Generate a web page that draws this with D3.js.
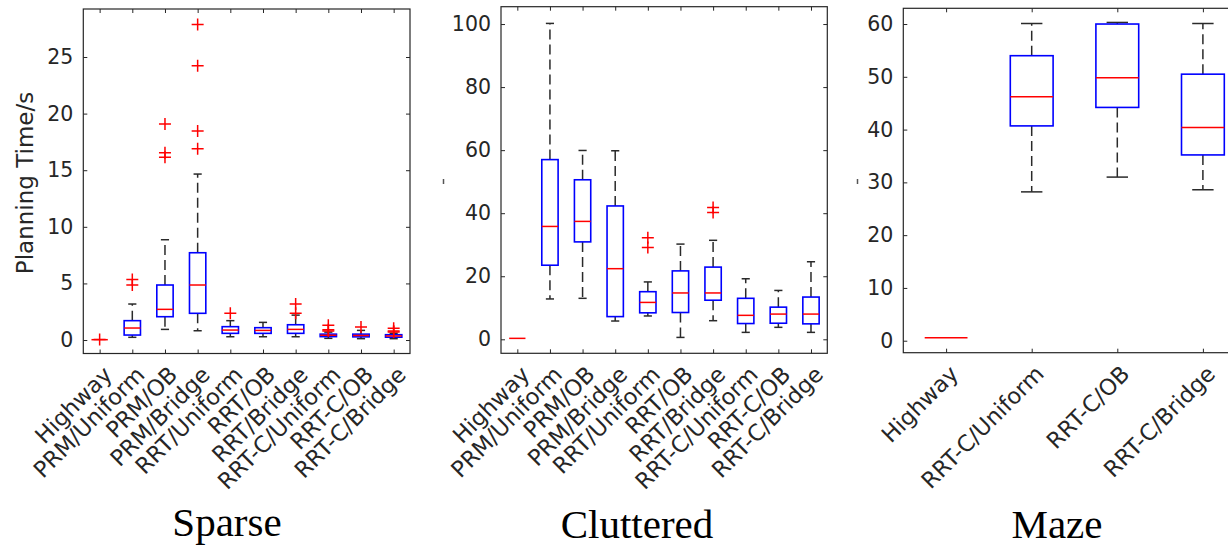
<!DOCTYPE html>
<html>
<head>
<meta charset="utf-8">
<script src="https://cdn.jsdelivr.net/npm/d3@7"></script>
<style>
  body { margin: 0; background: #fff; }
  svg { display: block; }
</style>
</head>
<body>
<svg id="chart" width="1228" height="547"></svg>
<script>
// Data.  Stats rows are [lower whisker, q1, median, q3, upper whisker]
const sparseCats = ["Highway", "PRM/Uniform", "PRM/OB", "PRM/Bridge", "RRT/Uniform",
  "RRT/OB", "RRT/Bridge", "RRT-C/Uniform", "RRT-C/OB", "RRT-C/Bridge"];
const sparseStats = [
  [0.03, 0.03, 0.03, 0.03, 0.03],
  [0.24, 0.44, 1.06, 1.71, 3.18],
  [0.94, 2.06, 2.71, 4.86, 8.86],
  [0.82, 2.36, 4.86, 7.71, 14.66],
  [0.29, 0.59, 0.88, 1.18, 1.71],
  [0.29, 0.59, 0.85, 1.09, 1.56],
  [0.29, 0.59, 0.94, 1.35, 2.2],
  [0.15, 0.3, 0.42, 0.52, 0.7],
  [0.12, 0.28, 0.4, 0.52, 0.85],
  [0.12, 0.25, 0.36, 0.47, 0.6]
];
const sparseOutliers = [[0.05], [5.35, 4.85], [19.08, 16.55, 16.14], [27.86, 24.23, 18.46, 16.9],
  [2.36], [], [3.18, 2.36], [1.3, 0.9, 0.8], [1.15], [1.05, 0.8, 0.7]];
const sparseTicks = [0, 5, 10, 15, 20, 25];

const clutteredCats = sparseCats;
const clutteredStats = [
  [0.3, 0.3, 0.3, 0.3, 0.3],
  [12.8, 23.5, 35.8, 57.0, 100.2],
  [13.0, 30.9, 37.4, 50.6, 59.9],
  [5.8, 7.2, 22.4, 42.3, 59.8],
  [7.4, 8.4, 11.7, 15.1, 18.2],
  [0.6, 8.5, 14.7, 21.7, 30.2],
  [5.9, 12.4, 14.7, 22.9, 31.4],
  [2.2, 5.0, 7.6, 13.0, 19.2],
  [3.8, 5.1, 8.0, 10.2, 15.5],
  [2.2, 4.9, 8.0, 13.4, 24.6]
];
const clutteredOutliers = [[], [], [], [], [32.2, 29.1], [], [41.8, 40.2], [], [], []];
const clutteredTicks = [0, 20, 40, 60, 80, 100];

const mazeCats = ["Highway", "RRT-C/Uniform", "RRT-C/OB", "RRT-C/Bridge"];
const mazeStats = [
  [0.57, 0.57, 0.57, 0.57, 0.57],
  [28.2, 40.7, 46.2, 54.0, 60.1],
  [31.0, 44.2, 49.8, 60.0, 60.3],
  [28.6, 35.2, 40.4, 50.5, 60.1]
];
const mazeOutliers = [[], [], [], []];
const mazeTicks = [0, 10, 20, 30, 40, 50, 60];

const titles = ["Sparse", "Cluttered", "Maze"];

const AXIS_COLOR = "#262626";
const svg = d3.select("#chart");

function drawPanel(p) {
  let n = p.cats.length;
  let x = d3.scaleLinear().domain([0.5, n + 0.5]).range([p.left, p.right]);
  let y = d3.scaleLinear().domain(p.yDomain).range([p.bottom, p.top]);
  let step = x(2) - x(1);
  let boxW = step * 0.5;
  let capW = step * 0.25;

  let g = svg.append("g");

  // frame + ticks on all four sides (inward)
  g.append("g").attr("transform", `translate(0,${p.bottom})`)
    .call(d3.axisBottom(x).tickValues(d3.range(1, n + 1)).tickSize(-4).tickFormat(""))
    .call(a => a.select(".domain").remove());
  g.append("g").attr("transform", `translate(0,${p.top})`)
    .call(d3.axisTop(x).tickValues(d3.range(1, n + 1)).tickSize(-4).tickFormat(""))
    .call(a => a.select(".domain").remove());
  g.append("g").attr("transform", `translate(${p.left},0)`)
    .call(d3.axisLeft(y).tickValues(p.ticks).tickSize(-4).tickPadding(10))
    .call(a => a.select(".domain").remove());
  g.append("g").attr("transform", `translate(${p.right},0)`)
    .call(d3.axisRight(y).tickValues(p.ticks).tickSize(-4).tickFormat(""))
    .call(a => a.select(".domain").remove());
  g.selectAll(".tick line").attr("stroke", AXIS_COLOR);
  g.selectAll(".tick text")
    .attr("fill", AXIS_COLOR)
    .style("font-family", "DejaVu Sans")
    .style("font-size", "20.5px");

  g.append("rect")
    .attr("x", p.left).attr("y", p.top)
    .attr("width", p.right - p.left).attr("height", p.bottom - p.top)
    .attr("fill", "none").attr("stroke", AXIS_COLOR).attr("stroke-width", 1.2);

  // rotated category labels
  g.selectAll("text.xlab").data(p.cats).enter()
    .append("text").attr("class", "xlab")
    .attr("transform", (d, i) => `translate(${x(i + 1) + 8},${p.bottom + 17}) rotate(-45)`)
    .attr("text-anchor", "end")
    .attr("dominant-baseline", "central")
    .attr("fill", AXIS_COLOR)
    .style("font-family", "DejaVu Sans")
    .style("font-size", "22.5px")
    .text(d => d);

  // boxes
  p.stats.forEach((s, i) => {
    let cx = x(i + 1);
    let [lo, q1, med, q3, hi] = s;
    if (hi > q3) {
      g.append("line").attr("x1", cx).attr("x2", cx).attr("y1", y(q3)).attr("y2", y(hi))
        .attr("stroke", "#2a2a2a").attr("stroke-width", 1.5).attr("stroke-dasharray", "10,5");
      g.append("line").attr("x1", cx - capW / 2).attr("x2", cx + capW / 2).attr("y1", y(hi)).attr("y2", y(hi))
        .attr("stroke", "#2a2a2a").attr("stroke-width", 1.5);
    }
    if (lo < q1) {
      g.append("line").attr("x1", cx).attr("x2", cx).attr("y1", y(q1)).attr("y2", y(lo))
        .attr("stroke", "#2a2a2a").attr("stroke-width", 1.5).attr("stroke-dasharray", "10,5");
      g.append("line").attr("x1", cx - capW / 2).attr("x2", cx + capW / 2).attr("y1", y(lo)).attr("y2", y(lo))
        .attr("stroke", "#2a2a2a").attr("stroke-width", 1.5);
    }
    if (q3 > q1) {
      g.append("rect").attr("x", cx - boxW / 2).attr("y", y(q3))
        .attr("width", boxW).attr("height", y(q1) - y(q3))
        .attr("fill", "none").attr("stroke", "#0000ff").attr("stroke-width", 1.6);
    }
    g.append("line").attr("x1", cx - boxW / 2).attr("x2", cx + boxW / 2).attr("y1", y(med)).attr("y2", y(med))
      .attr("stroke", "#ff0000").attr("stroke-width", 1.5);

    p.outliers[i].forEach(v => {
      let oy = y(v);
      g.append("path")
        .attr("d", `M${cx - 6},${oy}H${cx + 6}M${cx},${oy - 6}V${oy + 6}`)
        .attr("stroke", "#ff0000").attr("stroke-width", 1.5).attr("fill", "none");
    });
  });

  // panel title
  svg.append("text")
    .attr("x", p.titleX).attr("y", p.titleY)
    .attr("text-anchor", "middle")
    .style("font-family", "Liberation Serif")
    .style("font-size", "41px")
    .attr("fill", "#000")
    .text(p.title);

  // sliver of the clipped y label that peeks out left of panels 2 and 3
  if (p.sliverX) {
    svg.append("line")
      .attr("x1", p.sliverX).attr("x2", p.sliverX)
      .attr("y1", 179).attr("y2", 184)
      .attr("stroke", "#555").attr("stroke-width", 1.5);
  }
}

drawPanel({ cats: sparseCats, stats: sparseStats, outliers: sparseOutliers, ticks: sparseTicks,
  left: 83.3, right: 410, top: 9, bottom: 353.5, yDomain: [-1.19, 29.24],
  title: titles[0], titleX: 227, titleY: 536 });
drawPanel({ cats: clutteredCats, stats: clutteredStats, outliers: clutteredOutliers, ticks: clutteredTicks,
  left: 501, right: 827.3, top: 6.7, bottom: 353.3, yDomain: [-4.44, 105.5],
  title: titles[1], titleX: 637, titleY: 538, sliverX: 443.5 });
drawPanel({ cats: mazeCats, stats: mazeStats, outliers: mazeOutliers, ticks: mazeTicks,
  left: 903.3, right: 1245.7, top: 8.3, bottom: 352.7, yDomain: [-2.27, 62.98],
  title: titles[2], titleX: 1057, titleY: 538, sliverX: 857.5 });

// y label (only the first panel shows it fully)
svg.append("text")
  .attr("transform", "translate(33,183) rotate(-90)")
  .attr("text-anchor", "middle")
  .attr("fill", AXIS_COLOR)
  .style("font-family", "DejaVu Sans")
  .style("font-size", "23px")
  .text("Planning Time/s");
</script>
</body>
</html>
